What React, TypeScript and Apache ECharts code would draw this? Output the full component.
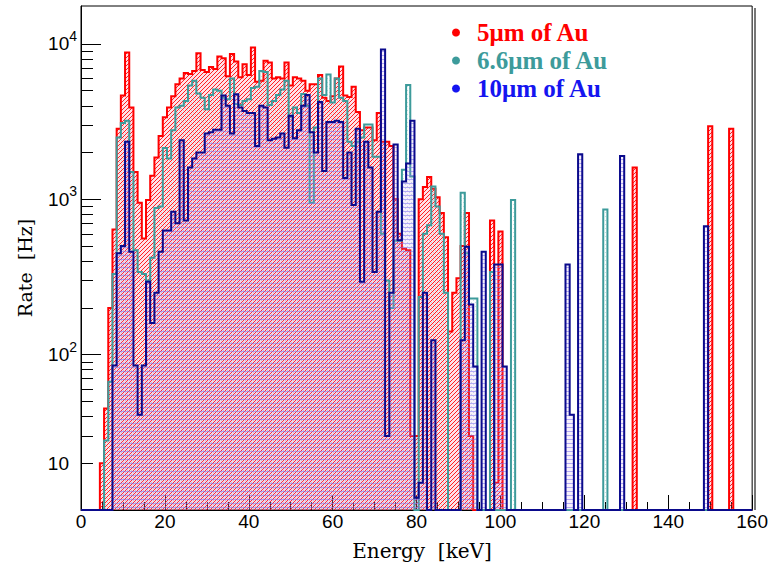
import { useEffect, useRef } from 'react';
import * as echarts from 'echarts';

// Rate [Hz] per 1 keV energy bin; bin k is centred on k keV (k = 0..159).
const rate5um: number[] = [
  0, 0, 0, 0, 0, 20, 45, 200, 640, 2850,
  4650, 8800, 3900, 1500, 950, 560, 990, 1420, 1860, 2560,
  3370, 3900, 4600, 5500, 6000, 6500, 6400, 6700, 8700, 6800,
  6600, 7100, 6900, 8300, 8100, 6200, 8600, 7700, 6100, 7400,
  6300, 9500, 5700, 5800, 7800, 7600, 6000, 6100, 6000, 7600,
  5400, 6100, 6000, 5800, 5000, 5500, 5500, 6300, 4500, 4300,
  4600, 6000, 7150, 4650, 4550, 5300, 3650, 2780, 2900, 2900,
  2400, 3600, 2350, 2350, 2200, 1000, 600, 480, 470, 30,
  30, 1000, 1200, 1390, 1170, 1030, 815, 570, 141, 250,
  310, 500, 815, 30, 0, 0, 0, 0, 730, 15,
  620, 0, 0, 0, 0, 0, 0, 0, 0, 0,
  0, 0, 0, 0, 0, 0, 0, 0, 0, 0,
  0, 0, 0, 0, 0, 0, 0, 0, 0, 0,
  0, 0, 1600, 0, 0, 0, 0, 0, 0, 0,
  0, 0, 0, 0, 0, 0, 0, 0, 0, 0,
  2950, 0, 0, 0, 0, 2850, 0, 0, 0, 0,
];

const rate6p6um: number[] = [
  0, 0, 0, 0, 0, 0, 28, 67, 330, 2500,
  3100, 3200, 1500, 470, 340, 330, 300, 420, 880, 900,
  2140, 1830, 2780, 3900, 4000, 4300, 5400, 5800, 4800, 4500,
  3800, 4700, 5100, 5000, 4500, 4400, 6000, 4100, 4050, 4300,
  4400, 5200, 5300, 6700, 6600, 4050, 4300, 4700, 5100, 5800,
  3400, 3900, 3600, 4770, 4000, 950, 2900, 6000, 4700, 6350,
  4200, 6000, 4500, 4300, 2350, 2200, 2350, 2500, 3030, 3030,
  1880, 1880, 600, 300, 200, 540, 540, 1550, 5450, 1400,
  10, 235, 600, 680, 1210, 900, 600, 250, 0, 0,
  0, 1100, 450, 230, 230, 0, 0, 0, 340, 0,
  0, 0, 0, 990, 0, 0, 0, 0, 0, 0,
  0, 0, 0, 0, 0, 0, 0, 0, 0, 0,
  0, 0, 0, 0, 0, 860, 0, 0, 0, 0,
  0, 0, 0, 0, 0, 0, 0, 0, 0, 0,
  0, 0, 0, 0, 0, 0, 0, 0, 0, 0,
  0, 0, 0, 0, 0, 0, 0, 0, 0, 0,
];

const rate10um: number[] = [
  0, 0, 0, 0, 0, 0, 0, 0, 85, 450,
  500, 2350, 460, 85, 41, 85, 295, 160, 250, 460,
  630, 630, 830, 700, 2400, 730, 1600, 1830, 2000, 2000,
  2650, 2700, 2800, 2800, 4650, 4000, 2650, 4750, 3900, 3700,
  3600, 3600, 2200, 4000, 3900, 2400, 2450, 2500, 2650, 2150,
  3450, 2470, 2780, 4000, 4700, 2700, 2000, 4230, 1520, 3150,
  3150, 3200, 3150, 1370, 2000, 920, 2850, 295, 2350, 1600,
  340, 830, 9200, 30, 250, 2250, 545, 1300, 1700, 3200,
  12, 15, 250, 0, 124, 0, 0, 0, 0, 0,
  0, 124, 495, 210, 84, 0, 460, 0, 0, 380,
  380, 84, 0, 0, 0, 0, 0, 0, 0, 0,
  0, 0, 0, 0, 0, 0, 380, 41, 0, 1950,
  0, 0, 0, 0, 0, 0, 0, 0, 0, 1900,
  0, 0, 0, 0, 0, 0, 0, 0, 0, 0,
  0, 0, 0, 0, 0, 0, 0, 0, 0, 670,
  0, 0, 0, 0, 0, 0, 0, 0, 0, 0,
];

const seriesNames = ['5μm of Au', '6.6μm of Au', '10μm of Au'];
const lineColors = ['#ff0000', '#3d9b9b', '#0a0a8c'];
const legendColors = ['#ff0000', '#3d9b9b', '#1515f0'];

const energyMin = 0;
const energyMax = 160;
const energyStep = 20;
const binWidth = 1;

const rateMin = 10;
const rateMax = 17550;
// Decade ticks, the 2..9 ticks in between, and the labelled positions.
const rateMajorTicks = [100, 1000, 10000];
const rateMinorTicks = [
  20, 30, 40, 50, 60, 70, 80, 90,
  200, 300, 400, 500, 600, 700, 800, 900,
  2000, 3000, 4000, 5000, 6000, 7000, 8000, 9000,
];
const rateLabelAt = [20, 100, 1000, 10000];
const rateLabelExp = ['', '2', '3', '4'];

const lg = (v: number) => Math.log10(v);

// Pixel hatch tile: an optional tint over the whole tile, then [x, y, alpha] cells in one colour.
function hatch(rgb: string, cells: [number, number, number][], tint?: string, size = 4) {
  const c = document.createElement('canvas');
  c.width = size;
  c.height = size;
  const g = c.getContext('2d')!;
  if (tint) {
    g.fillStyle = tint;
    g.fillRect(0, 0, size, size);
  }
  cells.forEach(([x, y, a]) => {
    g.fillStyle = `rgba(${rgb},${a})`;
    g.fillRect(x, y, 1, 1);
  });
  return { image: c, repeat: 'repeat', imageWidth: size, imageHeight: size } as any;
}

// Outline points of a histogram: one point per left bin edge, drawn as steps.
function stepPoints(rates: number[]) {
  const pts: [number, number][] = [];
  rates.forEach((r, k) => {
    const left = Math.max(energyMin, k * binWidth - binWidth / 2);
    pts.push([left, r > 0 ? r : rateMin]);
  });
  const last = rates[rates.length - 1];
  pts.push([energyMax, last > 0 ? last : rateMin]);
  return pts;
}

export default function App() {
  const ref = useRef<HTMLDivElement>(null);

  useEffect(() => {
    const chart = echarts.init(ref.current!, null, { renderer: 'svg' });
    const fills = [
      // "/" hatch on a light pink tint
      hatch('255,0,0', [[3, 0, 0.85], [2, 1, 0.85], [1, 2, 0.85], [0, 3, 0.85]], 'rgba(255,120,150,0.22)'),
      // sparse "/" dashes between the red ones
      hatch('61,160,160', [[1, 0, 0.3], [3, 2, 0.3]]),
      // horizontal lines on a faint lavender tint
      hatch('120,110,240', [[0, 3, 0.55], [1, 3, 0.55], [2, 3, 0.55], [3, 3, 0.55]], 'rgba(190,140,235,0.14)'),
    ];
    const allRates = [rate5um, rate6p6um, rate10um];

    const labelFont = 'Liberation Sans, Arial, sans-serif';
    const yMax = lg(rateMax);

    chart.setOption({
      animation: false,
      backgroundColor: '#ffffff',
      grid: {
        left: 81,
        right: 18,
        top: 6,
        bottom: 59,
        show: true,
        borderColor: '#000',
        borderWidth: 1,
      },
      legend: {
        orient: 'vertical',
        left: 447,
        top: 15,
        itemWidth: 32,
        itemHeight: 8,
        itemGap: 3,
        icon: 'circle',
        selectedMode: false,
        textStyle: {
          fontFamily: 'Liberation Serif, Times New Roman, serif',
          fontWeight: 'bold',
          fontSize: 25,
        },
        data: seriesNames.map((name, i) => ({
          name,
          itemStyle: { color: legendColors[i], borderWidth: 0 },
          textStyle: { color: legendColors[i] },
        })),
      },
      xAxis: {
        type: 'value',
        min: energyMin,
        max: energyMax,
        interval: energyStep,
        axisLine: { show: true, lineStyle: { color: '#000', width: 1 } },
        axisTick: { show: true, inside: true, length: 15, lineStyle: { color: '#000' } },
        minorTick: { show: true, splitNumber: 4, length: 8, lineStyle: { color: '#000' } },
        splitLine: { show: false },
        axisLabel: { color: '#000', fontFamily: labelFont, fontSize: 19, margin: 2 },
      },
      yAxis: [
        {
          type: 'log',
          logBase: 10,
          min: rateMin,
          max: rateMax,
          axisLine: { show: true, lineStyle: { color: '#000' } },
          axisTick: { show: false },
          axisLabel: { show: false },
          splitLine: { show: false },
        },
        {
          type: 'value',
          min: lg(rateMin),
          max: yMax,
          position: 'left',
          axisLine: { show: false },
          splitLine: { show: false },
          axisTick: {
            show: true,
            inside: true,
            length: 20,
            customValues: rateMajorTicks.map(lg),
            lineStyle: { color: '#000' },
          },
          axisLabel: {
            show: true,
            margin: 4,
            customValues: rateLabelAt.map(lg),
            formatter: (v: number) => {
              const i = rateLabelAt.findIndex((t) => Math.abs(lg(t) - v) < 1e-6);
              const e = i >= 0 ? rateLabelExp[i] : '';
              return e ? `{b|10}{s|${e}}` : '{b|10}{g|}';
            },
            rich: {
              b: { fontFamily: labelFont, fontSize: 19, color: '#000', lineHeight: 30 },
              s: { fontFamily: labelFont, fontSize: 14, color: '#000', lineHeight: 14, verticalAlign: 'top' },
              g: { width: 8, lineHeight: 30 },
            },
          },
        },
        {
          type: 'value',
          min: lg(rateMin),
          max: yMax,
          position: 'left',
          axisLine: { show: false },
          splitLine: { show: false },
          axisLabel: { show: false },
          axisTick: {
            show: true,
            inside: true,
            length: 12,
            customValues: rateMinorTicks.map(lg),
            lineStyle: { color: '#000' },
          },
        },
      ],
      graphic: [
        {
          type: 'text',
          x: 422,
          y: 551,
          style: {
            text: 'Energy  [keV]',
            font: '20px "DejaVu Serif", serif',
            fill: '#000',
            align: 'center',
            verticalAlign: 'middle',
          },
        },
        {
          type: 'text',
          x: 25,
          y: 268,
          rotation: Math.PI / 2,
          style: {
            text: 'Rate  [Hz]',
            font: '19px "DejaVu Serif", serif',
            fill: '#000',
            align: 'center',
            verticalAlign: 'middle',
          },
        },
        {
          type: 'line',
          shape: { x1: 755, y1: 8, x2: 755, y2: 510 },
          style: { stroke: '#777', lineWidth: 2 },
        },
      ],
      series: allRates.map((rates, i) => ({
        type: 'line',
        name: seriesNames[i],
        data: stepPoints(rates),
        step: 'end',
        symbol: 'none',
        showSymbol: false,
        clip: false,
        yAxisIndex: 0,
        z: 2 + i,
        lineStyle: { color: lineColors[i], width: 2, join: 'miter' },
        itemStyle: { color: lineColors[i] },
        areaStyle: { color: fills[i], origin: rateMin, opacity: 1 },
      })),
    });

    return () => chart.dispose();
  }, []);

  return (
    <div
      ref={ref}
      style={{ position: 'absolute', left: 0, top: 0, width: 771, height: 569, background: '#fff' }}
    />
  );
}
